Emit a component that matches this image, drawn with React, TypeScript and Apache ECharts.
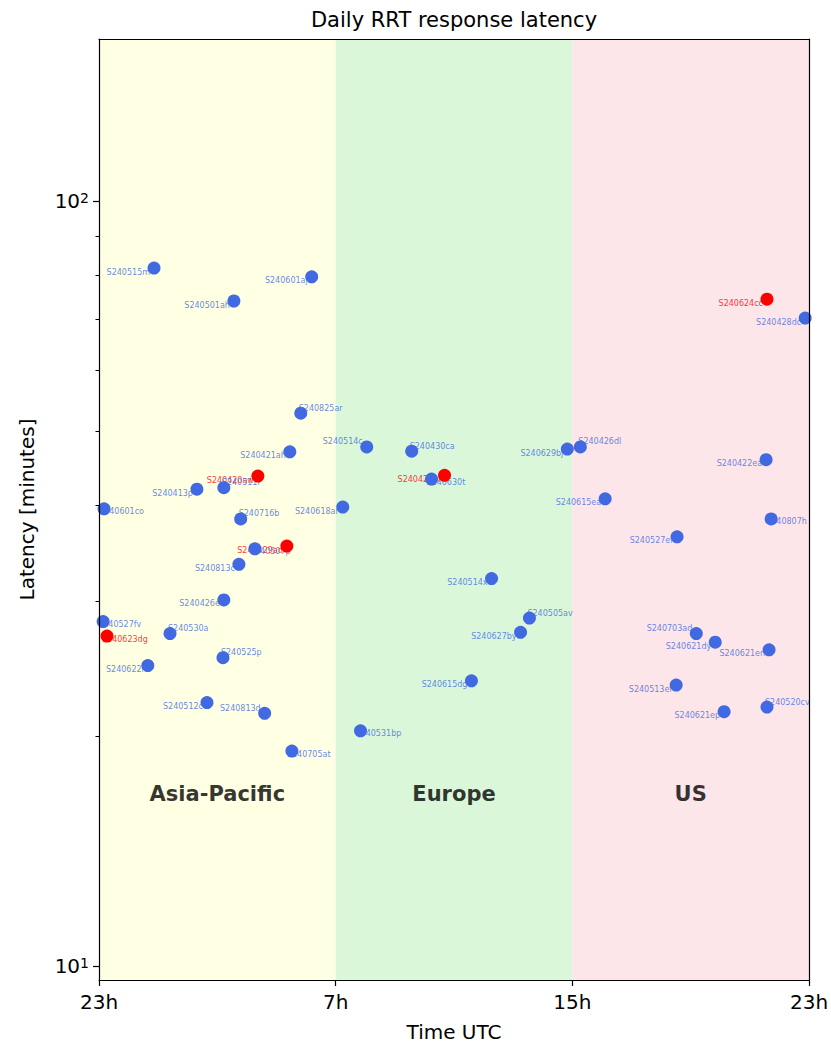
import React, { useEffect, useRef } from 'react';
import * as echarts from 'echarts';

// Event names
const names = [
  'S240515m', 'S240601aj', 'S240501ah', 'S240825ar', 'S240421ah', 'S240420aw', 'S240511r', 'S240413p',
  'S240601co', 'S240716b', 'S240618ar', 'S240514c', 'S240430ca', 'S240423bl', 'S240630t', 'S240429ad',
  'S240507p', 'S240813c', 'S240426e', 'S240527fv', 'S240623dg', 'S240530a', 'S240525p', 'S240622i',
  'S240512c', 'S240813d', 'S240705at', 'S240531bp', 'S240514x', 'S240505av', 'S240627by', 'S240615dg',
  'S240629bj', 'S240426dl', 'S240615ea', 'S240624cc', 'S240428dc', 'S240422ea', 'S240807h', 'S240527ef',
  'S240703ad', 'S240621dy', 'S240621en', 'S240513ef', 'S240520cv', 'S240621ep',
];
// Time of day, in hours after 23h UTC
const hoursAfter23 = [
  1.86, 7.19, 4.56, 6.82, 6.45, 5.37, 4.22, 3.31,
  0.17, 4.79, 8.24, 9.05, 10.57, 11.68, 11.24, 6.35,
  5.27, 4.73, 4.22, 0.14, 0.27, 2.40, 4.19, 1.65,
  3.65, 5.60, 6.52, 8.84, 13.27, 14.55, 14.25, 12.59,
  15.83, 16.27, 17.11, 22.58, 23.87, 22.55, 22.72, 19.54,
  20.19, 20.83, 22.65, 19.51, 22.58, 21.13,
];
// Latency in minutes
const latencyMinutes = [
  81.7, 79.6, 74.0, 52.8, 47.0, 43.7, 42.2, 42.0,
  39.6, 38.4, 39.8, 47.7, 47.1, 43.8, 43.3, 35.4,
  35.1, 33.5, 30.1, 28.2, 27.0, 27.2, 25.3, 24.7,
  22.1, 21.4, 19.1, 20.3, 32.1, 28.5, 27.3, 23.6,
  47.4, 47.7, 40.8, 74.4, 70.3, 45.9, 38.4, 36.4,
  27.2, 26.5, 25.9, 23.3, 21.8, 21.5,
];
// 1 = highlighted (red)
const flagged = [
  0, 0, 0, 0, 0, 1, 0, 0,
  0, 0, 0, 0, 0, 1, 0, 1,
  0, 0, 0, 0, 1, 0, 0, 0,
  0, 0, 0, 0, 0, 0, 0, 0,
  0, 0, 0, 1, 0, 0, 0, 0,
  0, 0, 0, 0, 0, 0,
];
// Label placement: Ld = left/down, Lu = left/up, Ru = right/up, Rd = right/down
const labelPlacement = [
  'Ld', 'Ld', 'Ld', 'Ru', 'Ld', 'Ld', 'Ru', 'Ld',
  'Rd', 'Ru', 'Ld', 'Lu', 'Ru', 'Ld', 'Rd', 'Ld',
  'Rd', 'Ld', 'Ld', 'Rd', 'Rd', 'Ru', 'Ru', 'Ld',
  'Ld', 'Lu', 'Rd', 'Rd', 'Ld', 'Ru', 'Ld', 'Ld',
  'Ld', 'Ru', 'Ld', 'Ld', 'Ld', 'Ld', 'Rd', 'Ld',
  'Lu', 'Ld', 'Ld', 'Ld', 'Ru', 'Ld',
];

const xTickLabels = ['23h', '7h', '15h', '23h'];
const regions = ['Asia-Pacific', 'Europe', 'US'];
const regionStart = [0, 8, 16];
const regionEnd = [8, 16, 24];
const regionLabelLatency = 16.8;
const majorTicks = [10, 100];
const minorTicks = [20, 30, 40, 50, 60, 70, 80, 90];

const regionColors = ['#ffffe3', '#daf7da', '#fde6e9'];
const BLUE = '#4169e1';
const RED = '#ff0000';
const FONT = 'DejaVu Sans';

const placements: Record<string, { align: string; offset: number[] }> = {
  Ld: { align: 'right', offset: [-4, 4] },
  Lu: { align: 'right', offset: [-4, -5] },
  Ru: { align: 'left', offset: [-2, -5] },
  Rd: { align: 'left', offset: [-5, 3] },
};

export default function App() {
  const ref = useRef<HTMLDivElement>(null);
  useEffect(() => {
    document.body.style.margin = '0';
    if (!ref.current) return;
    const chart = echarts.init(ref.current, undefined, { renderer: 'svg' });

    const labelData = names.map((n, i) => {
      const p = placements[labelPlacement[i]];
      return {
        name: n,
        value: [hoursAfter23[i], latencyMinutes[i]],
        label: { align: p.align, offset: p.offset, color: flagged[i] ? RED : BLUE },
      };
    });
    const blueData: any[] = [];
    const redData: any[] = [];
    names.forEach((n, i) => {
      const d = { name: n, value: [hoursAfter23[i], latencyMinutes[i]] };
      (flagged[i] ? redData : blueData).push(d);
    });

    const frameLine = { show: true, onZero: false, lineStyle: { color: '#000', width: 1.2 } };
    const yRange = { min: 9.59, max: 162.8 };

    const option: any = {
      animation: false,
      textStyle: { fontFamily: FONT },
      grid: { left: 99, top: 39, width: 710, height: 941, containLabel: false, outerBoundsMode: 'none' },
      graphic: [
        {
          type: 'text',
          x: 454,
          y: 20,
          style: {
            text: 'Daily RRT response latency',
            font: `21px "${FONT}"`,
            fill: '#000',
            textAlign: 'center',
            textVerticalAlign: 'middle',
          },
        },
      ],
      xAxis: [
        {
          type: 'value',
          min: 0,
          max: 24,
          interval: 8,
          z: 10,
          axisLine: frameLine,
          axisTick: { show: true, length: 6, lineStyle: { color: '#000', width: 1.2 } },
          axisLabel: {
            formatter: (v: number) => xTickLabels[Math.round(v / 8)],
            fontSize: 20,
            color: '#000',
            margin: 12,
            fontFamily: FONT,
          },
          splitLine: { show: false },
          name: 'Time UTC',
          nameLocation: 'middle',
          nameGap: 42,
          nameTextStyle: { fontSize: 20, color: '#000', fontFamily: FONT },
        },
        {
          type: 'value',
          position: 'top',
          min: 0,
          max: 24,
          z: 10,
          axisLine: frameLine,
          axisTick: { show: false },
          axisLabel: { show: false },
          splitLine: { show: false },
        },
      ],
      yAxis: [
        {
          type: 'log',
          logBase: 10,
          ...yRange,
          z: 10,
          axisLine: frameLine,
          axisTick: { show: true, length: 6, customValues: majorTicks, lineStyle: { color: '#000', width: 1.2 } },
          axisLabel: {
            customValues: majorTicks,
            margin: 10,
            formatter: (v: number) => `{b|10}{s|${Math.round(Math.log10(v))}}`,
            rich: {
              b: { fontSize: 20, color: '#000', fontFamily: FONT },
              s: { fontSize: 14, color: '#000', fontFamily: FONT, verticalAlign: 'top' },
            },
          },
          splitLine: { show: false },
          minorSplitLine: { show: false },
          name: 'Latency [minutes]',
          nameLocation: 'middle',
          nameGap: 62,
          nameTextStyle: { fontSize: 20, color: '#000', fontFamily: FONT },
        },
        {
          type: 'log',
          logBase: 10,
          ...yRange,
          position: 'right',
          z: 10,
          axisLine: frameLine,
          axisTick: { show: false },
          axisLabel: { show: false },
          splitLine: { show: false },
        },
        {
          type: 'log',
          logBase: 10,
          ...yRange,
          position: 'left',
          z: 10,
          axisLine: { show: false },
          axisTick: { show: true, length: 3.5, customValues: minorTicks, lineStyle: { color: '#000', width: 1 } },
          axisLabel: { show: false },
          splitLine: { show: false },
        },
      ],
      series: [
        {
          name: 'regions',
          type: 'scatter',
          z: 4,
          symbolSize: 1,
          itemStyle: { color: 'rgba(0,0,0,0)' },
          data: regions.map((r, i) => ({ name: r, value: [(regionStart[i] + regionEnd[i]) / 2, regionLabelLatency] })),
          label: {
            show: true,
            position: 'inside',
            formatter: '{b}',
            fontSize: 21,
            fontWeight: 'bold',
            color: '#000',
            textBorderWidth: 0,
            fontFamily: FONT,
          },
          silent: true,
          markArea: {
            silent: true,
            data: regions.map((r, i) => [
              { xAxis: regionStart[i], itemStyle: { color: regionColors[i] } },
              { xAxis: regionEnd[i] },
            ]),
          },
        },
        {
          name: 'labels',
          type: 'scatter',
          z: 2,
          symbolSize: 1,
          itemStyle: { color: 'rgba(0,0,0,0)' },
          silent: true,
          data: labelData,
          label: {
            show: true,
            position: 'inside',
            verticalAlign: 'middle',
            formatter: '{b}',
            fontSize: 8,
            textBorderWidth: 0,
            fontFamily: FONT,
          },
        },
        {
          name: 'events',
          type: 'scatter',
          z: 3,
          symbolSize: 13,
          itemStyle: { color: BLUE, opacity: 1 },
          data: blueData,
        },
        {
          name: 'flagged',
          type: 'scatter',
          z: 3,
          symbolSize: 13,
          itemStyle: { color: RED, opacity: 1 },
          data: redData,
        },
      ],
    };
    chart.setOption(option);
    return () => chart.dispose();
  }, []);
  return <div ref={ref} style={{ width: 831, height: 1044 }} />;
}
